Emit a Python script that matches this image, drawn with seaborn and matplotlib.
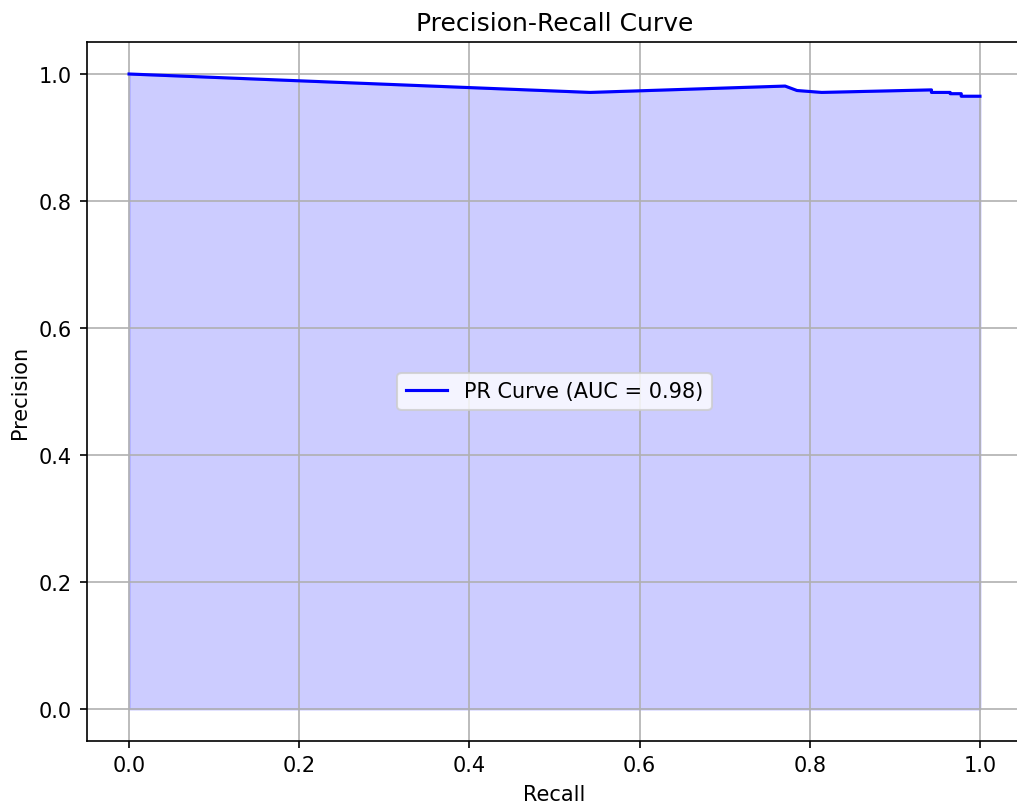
import matplotlib

matplotlib.use("Agg")
import matplotlib.pyplot as plt
import pandas as pd
import seaborn as sns

RECALL = [0.0, 0.542, 0.771, 0.785, 0.814, 0.943, 0.943, 0.965, 0.965, 0.978, 0.978, 1.0]
PRECISION = [1.0, 0.971, 0.981, 0.974, 0.971, 0.975, 0.971, 0.971, 0.969, 0.969, 0.965, 0.965]
AUC = 0.98

frame = pd.DataFrame({"recall": RECALL, "precision": PRECISION})

DPI = 150
fig = plt.figure(figsize=(1017 / DPI, 805 / DPI), dpi=DPI)
ax = fig.add_axes([86.5 / 1017, 63.25 / 805, 936 / 1017, 698.5 / 805])

ax.fill_between(frame["recall"], frame["precision"], color="blue", alpha=0.2)
sns.lineplot(
    data=frame,
    x="recall",
    y="precision",
    sort=False,
    estimator=None,
    color="blue",
    label=f"PR Curve (AUC = {AUC:.2f})",
    ax=ax,
)
ax.set(xlabel="Recall", ylabel="Precision", title="Precision-Recall Curve")
ax.grid(True)
ax.legend(loc="center")

fig.savefig("out.png", dpi=DPI, facecolor="white")
